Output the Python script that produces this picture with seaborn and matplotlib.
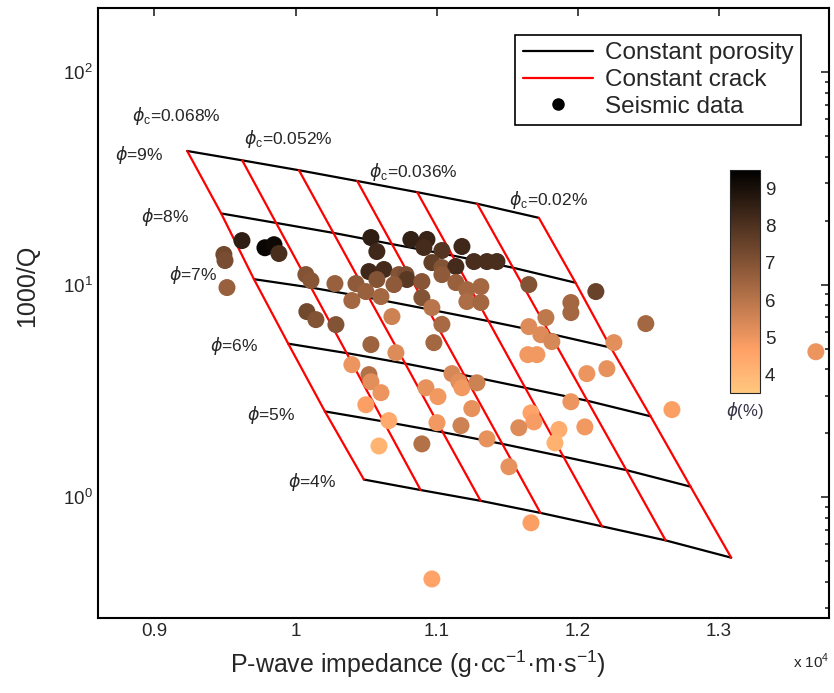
import matplotlib
matplotlib.use('Agg')
import matplotlib.pyplot as plt
import seaborn as sns
import pandas as pd
from matplotlib.lines import Line2D
from matplotlib.ticker import FuncFormatter, LogLocator, NullFormatter
from matplotlib.colors import Normalize
from matplotlib.cm import ScalarMappable

# rock-physics template: rows = total porosity (%), columns = crack porosity (%)
porosity = [9, 8, 7, 6, 5, 4]
crack = [0.068, 0.060, 0.052, 0.044, 0.036, 0.028, 0.020]
grid_imp = [
    [9232, 9622, 10024, 10437, 10862, 11287, 11724],
    [9473, 9862, 10268, 10683, 11111, 11541, 11984],
    [9705, 10110, 10520, 10938, 11367, 11802, 12234],
    [9948, 10362, 10777, 11196, 11627, 12068, 12516],
    [10208, 10623, 11043, 11465, 11898, 12344, 12799],
    [10484, 10886, 11311, 11735, 12171, 12622, 13087],
]
grid_q = [
    [42.5, 38.4, 34.5, 30.7, 27.2, 24.0, 20.6],
    [21.6, 19.5, 17.5, 15.5, 13.7, 12.0, 10.2],
    [10.6, 9.68, 8.67, 7.66, 6.73, 5.87, 5.05],
    [5.27, 4.76, 4.25, 3.75, 3.27, 2.84, 2.40],
    [2.53, 2.27, 2.02, 1.78, 1.55, 1.34, 1.12],
    [1.21, 1.08, 0.961, 0.843, 0.729, 0.626, 0.519],
]

# seismic data points
seis_imp = [9620, 9783, 9847, 9882, 9492, 9500, 9514, 10073, 10109, 10279,
            10428, 10399, 10080, 10144, 10286, 10534, 10576, 10817, 10931, 10909,
            11037, 11179, 10966, 11037, 11136, 11264, 11356, 11427, 10520, 10626,
            10732, 10782, 10789, 10576, 10697, 10895, 11037, 11136, 11214, 11313,
            10498, 10605, 10895, 11214, 11313, 10966, 10683, 11037, 11653, 12128,
            11951, 11951, 11774, 11653, 12482, 11738, 11816, 12256, 11646, 11710,
            12064, 12206, 11951, 11668, 11689, 11582, 11866, 11838, 12050, 12667,
            11512, 11668, 10966, 13687, 10534, 10980, 10711, 10399, 10520, 10534,
            10605, 10498, 10661, 10591, 10924, 11009, 11108, 11157, 11179, 11285,
            11249, 11002, 11172, 10895, 11356]
seis_q = [16.1, 14.9, 15.4, 14.0, 13.85, 12.97, 9.68, 11.14, 10.44, 10.11,
          10.11, 8.41, 7.46, 6.84, 6.48, 16.64, 14.30, 16.3, 16.3, 14.94,
          14.46, 15.10, 12.69, 12.02, 12.16, 12.83, 12.83, 12.83, 11.51, 11.77,
          11.14, 11.14, 10.56, 10.56, 10.0, 10.33, 11.14, 10.22, 9.47, 9.78,
          9.27, 8.78, 8.68, 8.32, 8.23, 7.79, 7.07, 6.5, 10.0, 9.27,
          8.23, 7.38, 6.99, 6.34, 6.55, 5.81, 5.39, 5.33, 4.68, 4.68,
          3.81, 4.02, 2.81, 2.49, 2.26, 2.12, 2.08, 1.80, 2.14, 2.58,
          1.39, 0.757, 0.412, 4.83, 5.22, 5.33, 4.78, 4.20, 3.77, 3.49,
          3.10, 2.72, 2.29, 1.74, 3.27, 2.97, 3.81, 3.49, 3.27, 3.45,
          2.61, 2.24, 2.17, 1.78, 1.88]
seis_phi = [8.6, 9.3, 9.2, 8.1, 7.3, 7.2, 6.6, 7.0, 6.9, 6.6,
            6.8, 6.4, 7.3, 7.0, 7.0, 8.6, 8.3, 8.5, 8.4, 8.2,
            7.9, 8.3, 7.6, 7.0, 8.2, 8.1, 8.1, 8.1, 8.3, 8.2,
            7.0, 7.2, 7.8, 7.0, 6.8, 6.9, 6.8, 6.6, 6.4, 6.4,
            6.6, 6.4, 7.0, 6.2, 6.4, 6.0, 5.6, 6.3, 7.0, 7.5,
            6.4, 6.4, 5.9, 5.3, 6.4, 5.3, 5.4, 5.2, 4.9, 4.9,
            5.0, 5.1, 5.0, 4.6, 4.8, 5.3, 4.3, 4.2, 4.9, 4.7,
            5.1, 4.7, 4.6, 5.0, 6.5, 6.4, 5.3, 5.0, 6.1, 5.2,
            5.0, 4.7, 4.4, 4.1, 5.1, 4.9, 5.4, 5.2, 4.9, 5.6,
            5.1, 4.9, 5.6, 6.1, 5.1]

sns.set_style('white')
plt.rcParams['font.family'] = ['Liberation Sans', 'DejaVu Sans']
plt.rcParams['mathtext.fontset'] = 'custom'
plt.rcParams['mathtext.rm'] = 'Liberation Sans'
plt.rcParams['mathtext.it'] = 'DejaVu Sans:italic'
plt.rcParams['mathtext.bf'] = 'Liberation Sans:bold'

fig = plt.figure(figsize=(8.34, 6.93), dpi=100)
ax = fig.add_axes([98 / 834, 1 - 618 / 693, 731 / 834, 610 / 693])

# template lines
for i in range(len(porosity)):
    ax.plot(grid_imp[i], grid_q[i], color='black', lw=1.6, zorder=2)
for j in range(len(crack)):
    ax.plot([r[j] for r in grid_imp], [r[j] for r in grid_q], color='red', lw=1.6, zorder=2)

df = pd.DataFrame({'imp': seis_imp, 'q': seis_q, 'phi': seis_phi})
sns.scatterplot(data=df, x='imp', y='q', hue='phi', palette='copper_r',
                hue_norm=(3.5, 9.5), s=150, linewidth=0, legend=False, ax=ax, zorder=3)

ax.set_yscale('log')
ax.set_xlim(8600, 13780)
ax.set_ylim(0.27, 200)
ax.set_xticks([9000, 10000, 11000, 12000, 13000])
ax.xaxis.set_major_formatter(FuncFormatter(lambda v, p: f'{v / 1e4:g}'))
ax.yaxis.set_major_locator(LogLocator(base=10, numticks=10))
ax.yaxis.set_minor_locator(LogLocator(base=10, subs=range(2, 10), numticks=20))
ax.yaxis.set_minor_formatter(NullFormatter())
ax.tick_params(which='both', direction='in', top=True, right=True, labelsize=13.5, width=1.2)
ax.tick_params(which='major', length=6)
ax.tick_params(which='minor', length=3)
for s in ax.spines.values():
    s.set_linewidth(1.5)
    s.set_color('black')

ax.set_xlabel('P-wave impedance (g·cc$^{-1}$·m·s$^{-1}$)', fontsize=18)
ax.set_ylabel('1000/Q', fontsize=18)
ax.xaxis.set_label_coords(0.438, -0.05)
ax.yaxis.set_label_coords(-0.08, 0.544)
fig.text(0.995, 0.045, 'x 10$^{4}$', fontsize=11, ha='right', va='center')

# annotations
phi_pos = [(8720, 40.5), (8904, 20.7), (9103, 11.1), (9393, 5.16), (9655, 2.44), (9946, 1.18)]
for p, (x, y) in zip(porosity, phi_pos):
    ax.text(x, y, rf'$\phi$={p}%', fontsize=12.5, va='center', ha='left')
crack_pos = [(8841, 61.8, crack[0]), (9634, 48.2, crack[2]), (10520, 34.0, crack[4]), (11512, 24.9, crack[6])]
for x, y, c in crack_pos:
    ax.text(x, y, rf'$\phi_{{\rm c}}$={c:g}%', fontsize=12.5, va='center', ha='left')

handles = [Line2D([], [], color='black', lw=1.6),
           Line2D([], [], color='red', lw=1.6),
           Line2D([], [], color='black', marker='o', ls='none', markersize=8)]
leg = ax.legend(handles, ['Constant porosity', 'Constant crack', 'Seismic data'],
                loc='upper right', bbox_to_anchor=(0.962, 0.956), borderaxespad=0,
                fontsize=17.5, fancybox=False, framealpha=1, edgecolor='black',
                handlelength=2.9, handletextpad=0.5, borderpad=0.3, labelspacing=0.2)
leg.get_frame().set_linewidth(1.2)

# colorbar
cax = fig.add_axes([730 / 834, 1 - 393 / 693, 30 / 834, 223 / 693])
sm = ScalarMappable(norm=Normalize(3.5, 9.5), cmap='copper_r')
cb = fig.colorbar(sm, cax=cax, ticks=[4, 5, 6, 7, 8, 9])
cb.outline.set_linewidth(0.8)
cax.tick_params(direction='in', left=True, right=True, length=3, labelsize=13.5)
cax.text(0.5, -0.03, r'$\phi$(%)', transform=cax.transAxes, ha='center', va='top',
         fontsize=12, color='#333344')

fig.savefig('out.png', dpi=100)
